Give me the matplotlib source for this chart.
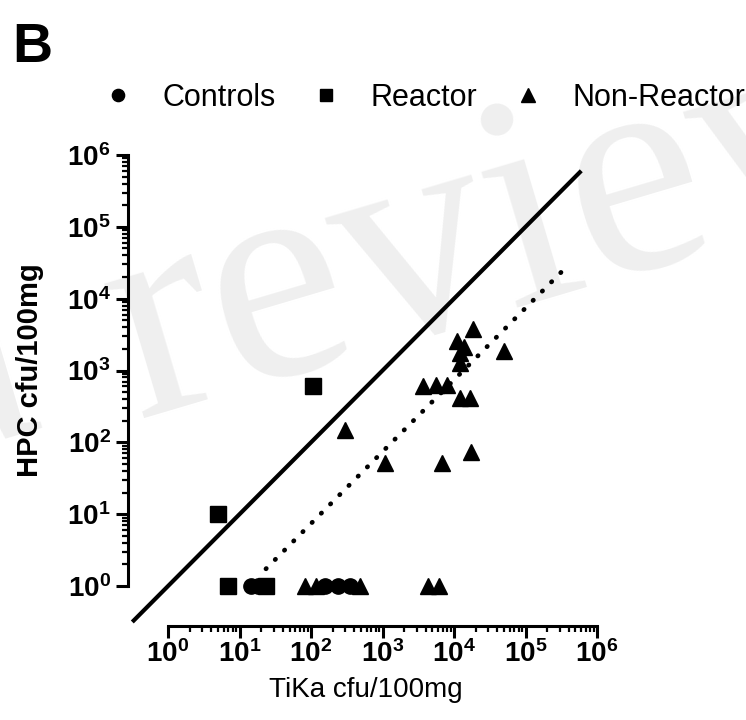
import numpy as np
import matplotlib
matplotlib.use("Agg")
import matplotlib.pyplot as plt
from matplotlib.ticker import FixedLocator, FuncFormatter, NullFormatter

plt.rcParams['font.family'] = ['Liberation Sans', 'DejaVu Sans']
plt.rcParams['mathtext.fontset'] = 'custom'
plt.rcParams['mathtext.rm'] = 'Liberation Sans'
plt.rcParams['mathtext.bf'] = 'Liberation Sans:bold'
plt.rcParams['lines.scale_dashes'] = False

# ---- data ----
controls_x = [14.5, 18, 157, 240, 350]
controls_y = [1, 1, 1, 1, 1]

reactor_x = [5, 7, 23.5, 105]
reactor_y = [10, 1, 1, 600]

nonreactor_x = [82, 117, 485, 4360, 6160, 300, 1080, 6800, 17400, 3700, 5600,
                8000, 12000, 16600, 18500, 50000, 11000, 13800, 12000, 12000]
nonreactor_y = [1, 1, 1, 1, 1, 147, 51, 51, 73, 600, 620,
                620, 420, 410, 3800, 1900, 2600, 2150, 1780, 1260]

identity_x = [10 ** -0.5, 10 ** 5.78]
fit_x = [10 ** 1.37, 10 ** 5.6]
fit_offset = -1.13  # log10(y) = log10(x) + offset

legend_labels = ["Controls", "Reactor", "Non-Reactor"]
major_ticks = [10 ** k for k in range(0, 7)]
minor_ticks = [m * 10 ** k for k in range(0, 6) for m in range(2, 10)]

# ---- figure ----
W, H = 746, 720
fig = plt.figure(figsize=(W / 100, H / 100), dpi=100)

# watermark
wm = dict(fontsize=220, family="Liberation Serif", color="#efefef", rotation=16.5,
          rotation_mode="anchor", ha="left", va="baseline", zorder=0)
fig.text(-85 / W, 1 - 462 / H, "a", **wm)
fig.text(138 / W, 1 - 418 / H, "review", **wm)

ax_l, ax_r = 128, 597
ax_b, ax_t = 626, 155
ax = fig.add_axes([ax_l / W, 1 - ax_b / H, (ax_r - ax_l) / W, (ax_b - ax_t) / H])
ax.set_zorder(2)
ax.patch.set_alpha(0)
ax.set_xscale("log")
ax.set_yscale("log")
ax.set_xlim(10 ** -0.56, 1e6)
ax.set_ylim(10 ** -0.556, 1e6)

# identity line
ax.plot(identity_x, identity_x, color="black", lw=3, solid_capstyle="butt", zorder=2)
# dotted fit line
fx = np.array(fit_x)
ax.plot(fx, fx * 10 ** fit_offset, color="black", lw=3.4, dashes=[0.3, 9.1],
        dash_capstyle="round", zorder=2)

h1, = ax.plot(controls_x, controls_y, "o", color="black", ms=11, ls="none", zorder=3,
              clip_on=False)
h2, = ax.plot(reactor_x, reactor_y, "s", color="black", ms=11, ls="none", zorder=3,
              clip_on=False)
h3, = ax.plot(nonreactor_x, nonreactor_y, "^", color="black", ms=12, ls="none", zorder=3,
              clip_on=False)

for s in ["top", "right"]:
    ax.spines[s].set_visible(False)
for s in ["left", "bottom"]:
    ax.spines[s].set_linewidth(2.2)
ax.spines["left"].set_bounds(1, 1e6)
ax.spines["bottom"].set_bounds(1, 1e6)

fmt = FuncFormatter(lambda v, p: r"$\mathbf{10^{%d}}$" % int(round(np.log10(v))))
for axis in (ax.xaxis, ax.yaxis):
    axis.set_major_locator(FixedLocator(major_ticks))
    axis.set_minor_locator(FixedLocator(minor_ticks))
    axis.set_major_formatter(fmt)
    axis.set_minor_formatter(NullFormatter())
ax.tick_params(which="major", direction="out", length=8.5, width=2.2, labelsize=20)
ax.tick_params(which="minor", direction="out", length=4, width=1.6)
ax.tick_params(axis="y", which="major", pad=4)
ax.tick_params(axis="x", which="major", pad=2)

# labels
fig.text(30 / W, 1 - 370 / H, "HPC cfu/100mg", rotation=90, fontsize=21,
         fontweight="bold", ha="center", va="center", zorder=3)
fig.text(366 / W, 1 - 690 / H, "TiKa cfu/100mg", fontsize=20, ha="center", va="center",
         zorder=3)
fig.text(12 / W, 1 - 62 / H, "B", fontsize=40, fontweight="bold", ha="left", va="baseline",
         zorder=3)

leg = fig.legend([h1, h2, h3], legend_labels, loc="center",
                 bbox_to_anchor=(424 / W, 1 - 98 / H),
                 ncol=3, frameon=False, fontsize=22, handlelength=1.0, handletextpad=0.95,
                 columnspacing=1.15, markerscale=0.8)
leg.set_zorder(3)

fig.savefig("out.png", dpi=100)
